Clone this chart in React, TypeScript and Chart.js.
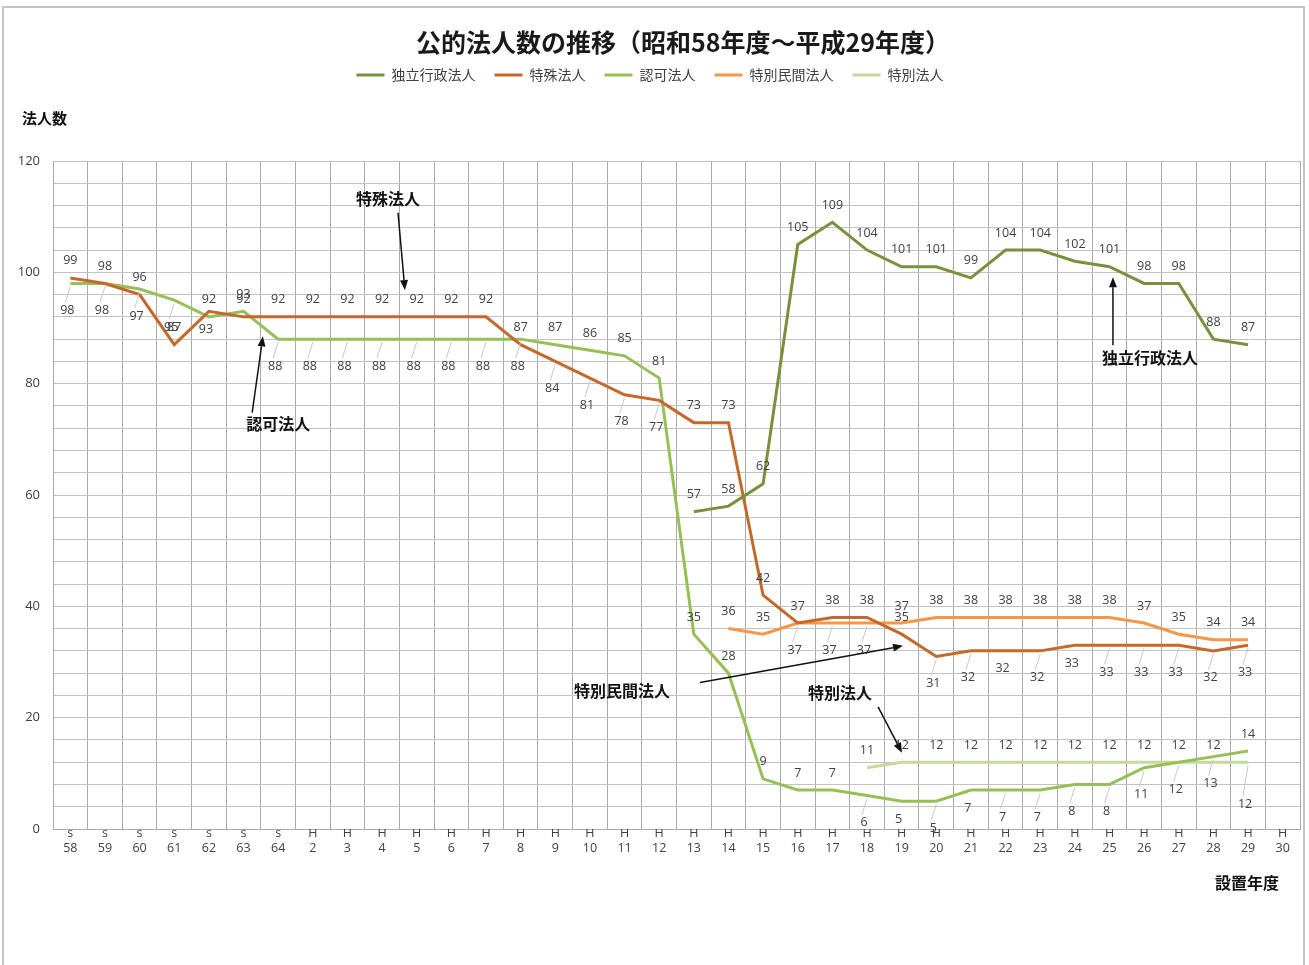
import React, { useEffect, useRef } from 'react';
import { Chart, registerables } from 'chart.js';

Chart.register(...registerables);

const TITLE = '公的法人数の推移（昭和58年度～平成29年度）';
const Y_TITLE = '法人数';
const X_TITLE = '設置年度';

const eraMarks = ['s', 's', 's', 's', 's', 's', 's', 'H', 'H', 'H', 'H', 'H', 'H', 'H', 'H', 'H', 'H', 'H', 'H', 'H', 'H', 'H', 'H', 'H', 'H', 'H', 'H', 'H', 'H', 'H', 'H', 'H', 'H', 'H', 'H', 'H'];
const yearNums = ['58', '59', '60', '61', '62', '63', '64', '2', '3', '4', '5', '6', '7', '8', '9', '10', '11', '12', '13', '14', '15', '16', '17', '18', '19', '20', '21', '22', '23', '24', '25', '26', '27', '28', '29', '30'];

const seriesNames = ['独立行政法人', '特殊法人', '認可法人', '特別民間法人', '特別法人'];

const dokuritsu = [null, null, null, null, null, null, null, null, null, null, null, null, null, null, null, null, null, null, 57, 58, 62, 105, 109, 104, 101, 101, 99, 104, 104, 102, 101, 98, 98, 88, 87, null];
const tokushu = [99, 98, 96, 87, 93, 92, 92, 92, 92, 92, 92, 92, 92, 87, 84, 81, 78, 77, 73, 73, 42, 37, 38, 38, 35, 31, 32, 32, 32, 33, 33, 33, 33, 32, 33, null];
const ninka = [98, 98, 97, 95, 92, 93, 88, 88, 88, 88, 88, 88, 88, 88, 87, 86, 85, 81, 35, 28, 9, 7, 7, 6, 5, 5, 7, 7, 7, 8, 8, 11, 12, 13, 14, null];
const minkan = [null, null, null, null, null, null, null, null, null, null, null, null, null, null, null, null, null, null, null, 36, 35, 37, 37, 37, 37, 38, 38, 38, 38, 38, 38, 37, 35, 34, 34, null];
const tokubetsu = [null, null, null, null, null, null, null, null, null, null, null, null, null, null, null, null, null, null, null, null, null, null, null, 11, 12, 12, 12, 12, 12, 12, 12, 12, 12, 12, 12, null];

// label placement codes per category: a = above, b = below, L = below with leader, F = far below with leader, - = none
const dokuritsuPlace = '------------------aaaaaaaaaaaaaaaaa-';
const tokushuPlace = 'aaaabaaaaaaaaaLLLLaaaaaaaLLbLbLLLLL-';
const ninkaPlace = 'LLLLaaLLLLLLLLaaaaaaaaaLbLbLLLLLLLa-';
const minkanPlace = '-------------------aaLLLaaaaaaaaaaa-';
const tokubetsuPlace = '-----------------------aaaaaaaaaaaF-';

const COLORS = ['#76923C', '#C5682B', '#95C055', '#F79646', '#C4D99E'];

const categoryLabels = eraMarks.map((e, i) => [e, yearNums[i]]);
const seriesValues = [dokuritsu, tokushu, ninka, minkan, tokubetsu];
const seriesPlaces = [dokuritsuPlace, tokushuPlace, ninkaPlace, minkanPlace, tokubetsuPlace];

// annotations: text at (category index, value), arrow from -> to
const annotations = [
  { text: '特殊法人', at: [9.17, 113.2], from: [9.46, 110.7], to: [9.66, 96.8] },
  { text: '認可法人', at: [6.0, 72.7], from: [5.25, 74.8], to: [5.56, 88.5] },
  { text: '特別民間法人', at: [15.93, 24.8], from: [18.18, 26.3], to: [24.04, 32.9] },
  { text: '特別法人', at: [22.22, 24.5], from: [23.32, 21.95], to: [24.01, 13.7] },
  { text: '独立行政法人', at: [31.17, 84.6], from: [30.1, 86.9], to: [30.1, 99.1] },
];

const JP = '"Noto Sans CJK JP", "Noto Sans", sans-serif';
const NUM = '"Open Sans", "Noto Sans", sans-serif';

const OFFS: Record<string, number> = { a: -17, b: 18, L: 27, F: 42 };

const bgPlugin = {
  id: 'bgBorder',
  beforeDraw(chart: any) {
    const ctx = chart.ctx;
    ctx.save();
    ctx.fillStyle = '#ffffff';
    ctx.fillRect(0, 0, chart.width, chart.height);
    ctx.strokeStyle = '#C4C4C4';
    ctx.lineWidth = 2;
    ctx.strokeRect(3, 7, 1301, 980);
    ctx.restore();
  },
};

const legendSpacer = {
  id: 'legendSpacer',
  beforeLayout(chart: any) {
    const lg = chart.legend;
    if (lg && !lg._spacerPatched) {
      const orig = lg.fit;
      lg.fit = function () {
        orig.call(this);
        this.height += 69;
      };
      lg._spacerPatched = true;
    }
  },
};

const valueLabels = {
  id: 'valueLabels',
  afterDatasetsDraw(chart: any) {
    const ctx = chart.ctx;
    ctx.save();
    ctx.font = '12.5px ' + NUM;
    ctx.textAlign = 'center';
    ctx.textBaseline = 'middle';
    chart.data.datasets.forEach((ds: any, di: number) => {
      const meta = chart.getDatasetMeta(di);
      const codes = seriesPlaces[di];
      meta.data.forEach((pt: any, i: number) => {
        const v = ds.data[i];
        if (v === null || v === undefined) return;
        const code = codes[i];
        const off = OFFS[code];
        if (off === undefined) return;
        const x = pt.x;
        const y = pt.y;
        const lx = off > 0 ? x - 3 : x;
        const ly = y + off;
        if (code === 'L' || code === 'F') {
          ctx.strokeStyle = '#C8C8C8';
          ctx.lineWidth = 1;
          ctx.beginPath();
          ctx.moveTo(x, y + 3);
          ctx.lineTo(lx - 2, ly - 8);
          ctx.stroke();
        }
        ctx.fillStyle = '#404040';
        ctx.fillText(String(v), lx, ly);
      });
    });
    ctx.restore();
  },
};

const annotationPlugin = {
  id: 'annots',
  afterDraw(chart: any) {
    const ctx = chart.ctx;
    const xs = chart.scales.x;
    const ys = chart.scales.y;
    const px = (p: number[]) => [xs.getPixelForValue(p[0]), ys.getPixelForValue(p[1])];
    ctx.save();
    // chart title
    ctx.font = 'bold 25px ' + JP;
    ctx.textAlign = 'center';
    ctx.textBaseline = 'middle';
    ctx.fillStyle = '#1a1a1a';
    ctx.fillText(TITLE, 683, 42);

    ctx.font = 'bold 16px ' + JP;
    annotations.forEach((a) => {
      const [tx, ty] = px(a.at);
      ctx.fillStyle = '#111111';
      ctx.fillText(a.text, tx, ty);
      const [x1, y1] = px(a.from);
      const [x2, y2] = px(a.to);
      const ang = Math.atan2(y2 - y1, x2 - x1);
      const hl = 10;
      const hw = 4;
      const bx = x2 - hl * Math.cos(ang);
      const by = y2 - hl * Math.sin(ang);
      ctx.strokeStyle = '#111111';
      ctx.lineWidth = 1.5;
      ctx.beginPath();
      ctx.moveTo(x1, y1);
      ctx.lineTo(bx, by);
      ctx.stroke();
      ctx.beginPath();
      ctx.moveTo(x2, y2);
      ctx.lineTo(bx + hw * Math.sin(ang), by - hw * Math.cos(ang));
      ctx.lineTo(bx - hw * Math.sin(ang), by + hw * Math.cos(ang));
      ctx.closePath();
      ctx.fillStyle = '#111111';
      ctx.fill();
    });
    // axis titles
    ctx.font = 'bold 15px ' + JP;
    ctx.textAlign = 'left';
    ctx.fillText(Y_TITLE, 22, 118);
    ctx.font = 'bold 16px ' + JP;
    ctx.textAlign = 'right';
    ctx.fillText(X_TITLE, 1279, 883);
    ctx.restore();
  },
};

export default function App() {
  const ref = useRef<HTMLCanvasElement>(null);
  useEffect(() => {
    const canvas = ref.current;
    if (!canvas) return;
    const chart = new Chart(canvas, {
      type: 'line',
      data: {
        labels: categoryLabels,
        datasets: seriesValues.map((vals, i) => ({
          label: seriesNames[i],
          data: vals,
          borderColor: COLORS[i],
          backgroundColor: COLORS[i],
          borderWidth: 3,
          pointRadius: 0,
          pointHoverRadius: 0,
          tension: 0,
          spanGaps: false,
        })),
      },
      options: {
        animation: false,
        responsive: false,
        maintainAspectRatio: false,
        layout: { padding: { left: 0, right: 9, top: 49, bottom: 112 } },
        plugins: {
          title: { display: false },
          legend: {
            display: true,
            position: 'top',
            labels: {
              usePointStyle: true,
              pointStyle: 'line',
              pointStyleWidth: 28,
              boxHeight: 14,
              padding: 19,
              color: '#404040',
              font: { family: JP, size: 14 },
            },
          },
          tooltip: { enabled: false },
        },
        scales: {
          x: {
            type: 'category',
            offset: true,
            grid: { offset: true, color: '#A9A9A9', drawTicks: false, lineWidth: 1 },
            border: { color: '#A9A9A9' },
            ticks: {
              autoSkip: false,
              maxRotation: 0,
              minRotation: 0,
              padding: -3,
              color: '#404040',
              font: { family: NUM, size: 12.5, lineHeight: 1.2 },
            },
          },
          y: {
            min: 0,
            max: 120,
            afterFit: (scale: any) => {
              scale.width = 53;
            },
            grid: { color: '#C2C2C2', drawTicks: false, lineWidth: 1 },
            border: { color: '#A9A9A9' },
            ticks: {
              stepSize: 4,
              maxTicksLimit: 40,
              autoSkip: false,
              padding: 13,
              color: '#404040',
              font: { family: NUM, size: 13 },
              callback: (v: any) => (Number(v) % 20 === 0 ? String(v) : ''),
            },
          },
        },
      },
      plugins: [bgPlugin, legendSpacer, valueLabels, annotationPlugin],
    } as any);
    return () => chart.destroy();
  }, []);
  return (
    <div style={{ position: 'fixed', left: 0, top: 0, width: 1309, height: 965, background: '#ffffff' }}>
      <canvas ref={ref} width={1309} height={965} style={{ display: 'block', width: 1309, height: 965 }} />
    </div>
  );
}
